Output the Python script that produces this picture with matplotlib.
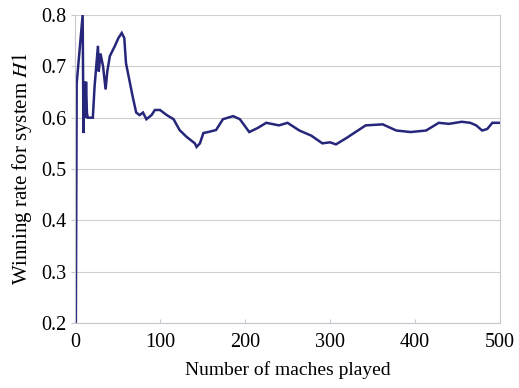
import matplotlib
matplotlib.use("Agg")
import matplotlib.pyplot as plt

matches = [1, 2, 9, 10, 11, 12, 13, 14, 15, 21, 23, 27, 28, 30, 33, 36, 38, 41, 47, 51, 55, 58, 60,
           64, 68, 72, 76, 80, 84, 90, 94, 100, 108, 116, 123, 131, 141, 143, 147, 151, 159, 166,
           174, 186, 194, 205, 215, 225, 240, 250, 264, 278, 291, 300, 307, 319, 330, 342, 362,
           378, 395, 413, 428, 440, 455, 465, 472, 479, 485, 491, 500]
win_rate = [0.2, 0.667, 0.8, 0.57, 0.67, 0.6, 0.67, 0.61, 0.6, 0.6, 0.66, 0.74, 0.69, 0.725, 0.7,
            0.655, 0.69, 0.72, 0.74, 0.755, 0.765, 0.755, 0.706, 0.673, 0.64, 0.61, 0.605, 0.61,
            0.597, 0.605, 0.615, 0.615, 0.605, 0.597, 0.576, 0.563, 0.55, 0.543, 0.55, 0.57,
            0.573, 0.576, 0.597, 0.603, 0.597, 0.572, 0.58, 0.59, 0.585, 0.59, 0.575, 0.565,
            0.55, 0.552, 0.548, 0.56, 0.572, 0.585, 0.587, 0.575, 0.572, 0.575, 0.59, 0.588,
            0.592, 0.59, 0.585, 0.575, 0.578, 0.59, 0.59]

xticks = [0, 100, 200, 300, 400, 500]
yticks = [0.2, 0.3, 0.4, 0.5, 0.6, 0.7, 0.8]

plt.rcParams['font.family'] = ['Liberation Serif', 'DejaVu Serif']
plt.rcParams['mathtext.fontset'] = 'stix'

fig = plt.figure(figsize=(5.19, 3.88), dpi=100)
ax = fig.add_axes([0.1445, 0.1675, 0.8189, 0.7938])

ax.plot(matches, win_rate, color='#26267a', lw=1.8, solid_joinstyle='miter')
ax.set_xlim(0, 500)
ax.set_ylim(0.2, 0.8)
ax.set_xticks(xticks)
ax.set_yticks(yticks)
ax.set_yticklabels([f"{v:.1f}" for v in yticks])
ax.yaxis.grid(True, color='#d0d0d0', lw=0.8)
ax.set_axisbelow(True)
for s in ['left', 'bottom', 'right']:
    ax.spines[s].set_color('#c8c8d0')
    ax.spines[s].set_linewidth(0.8)
ax.spines['top'].set_visible(False)
ax.tick_params(axis='x', direction='in', length=3, color='#c8c8d0', labelsize=14.5, pad=7)
ax.tick_params(axis='y', direction='out', length=3, color='#c8c8d0', labelsize=14.5, pad=3)
ax.set_xlabel('Number of maches played', fontsize=14, labelpad=7)
ax.set_ylabel('Winning rate for system $\\mathit{H1}$', fontsize=15, labelpad=5)

fig.savefig('out.png', dpi=100)
